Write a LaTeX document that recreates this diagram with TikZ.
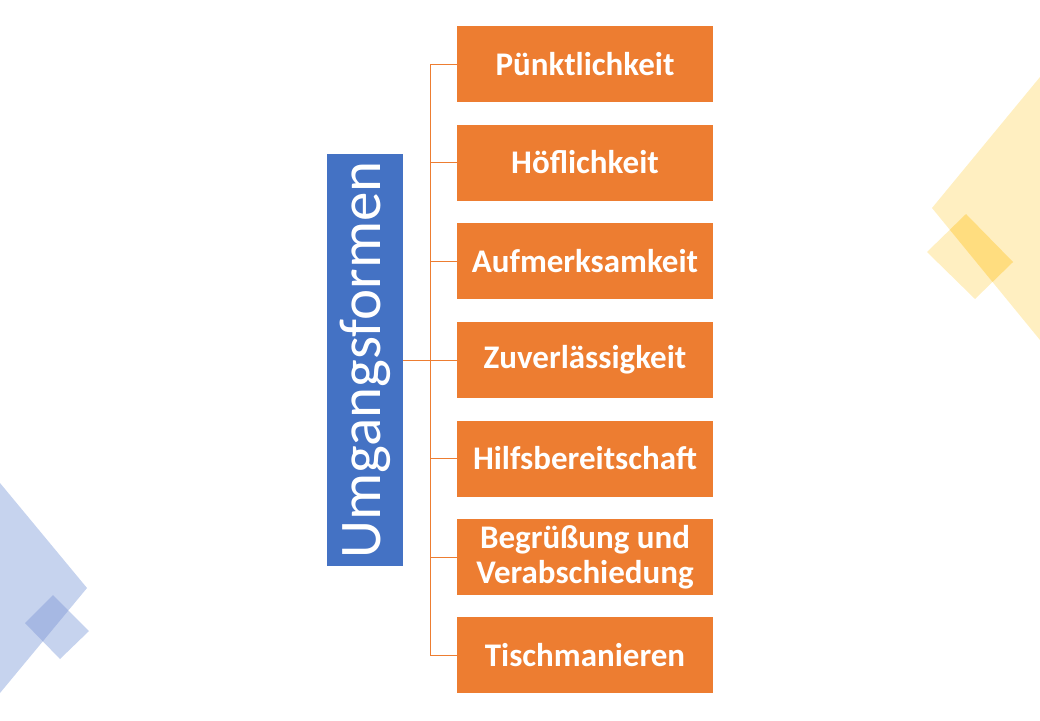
\documentclass[tikz,border=0pt]{standalone}
\usepackage{fontspec}
\setmainfont{Carlito}
\usepackage{tikz}
\definecolor{boxorange}{HTML}{ED7D31}
\definecolor{boxblue}{HTML}{4472C4}
\definecolor{deckyellow}{HTML}{FFEFC1}
\definecolor{deckyellowdark}{HTML}{FFDD7F}
\definecolor{deckblue}{HTML}{C6D3EE}
\definecolor{deckbluedark}{HTML}{A6B8E3}

\begin{document}
\begin{tikzpicture}[x=1pt,y=-1pt,
    rootbox/.style={fill=boxblue, text=white, rotate=90, minimum width=412pt, minimum height=76pt,
                    inner sep=0pt, font=\fontsize{59}{61}\selectfont},
    itembox/.style={fill=boxorange, text=white, minimum width=256pt, minimum height=76pt,
                    inner sep=0pt, align=center, font=\fontsize{33}{35}\selectfont\bfseries},
    link/.style={boxorange, line width=1pt}]
                \useasboundingbox (0,0) rectangle (1040,720);
                % background shapes
                \fill [deckyellow] (932,208) -- (1040,77) -- (1040,340) -- cycle;
                \fill [deckyellow] (927,252) -- (966,214) -- (1013,262) -- (975,299) -- cycle;
                \begin{scope}
                    \clip (932,208) -- (1040,77) -- (1040,340) -- cycle;
                    \fill [deckyellowdark] (927,252) -- (966,214) -- (1013,262) -- (975,299) -- cycle;
                \end{scope}
                \fill [deckblue] (0,483) -- (87,588) -- (0,693) -- cycle;
                \fill [deckblue] (25,623) -- (53,595) -- (89,631) -- (60,659) -- cycle;
                \begin{scope}
                    \clip (0,483) -- (87,588) -- (0,693) -- cycle;
                    \fill [deckbluedark] (25,623) -- (53,595) -- (89,631) -- (60,659) -- cycle;
                \end{scope}
                % diagram
                \node [rootbox] (root) at (365,360) {Umgangsformen};
                \foreach \i/\y/\txt in {1/64/Pünktlichkeit, 2/162.5/Höflichkeit, 3/261/Aufmerksamkeit,
                        4/360/Zuverlässigkeit, 5/458.5/Hilfsbereitschaft,
                        6/557/{Begrüßung und\\Verabschiedung}, 7/655/Tischmanieren}
                    \node [itembox] (c\i) at (585,\y) {\txt};
                \coordinate (bus) at (430,360);
                \draw [link] (root.south) -- (bus);
                \draw [link] (c1.west -| bus) -- (c7.west -| bus);
                \foreach \i in {1,...,7}
                    \draw [link] (c\i.west) -- (c\i.west -| bus);
            \end{tikzpicture}
\end{document}
